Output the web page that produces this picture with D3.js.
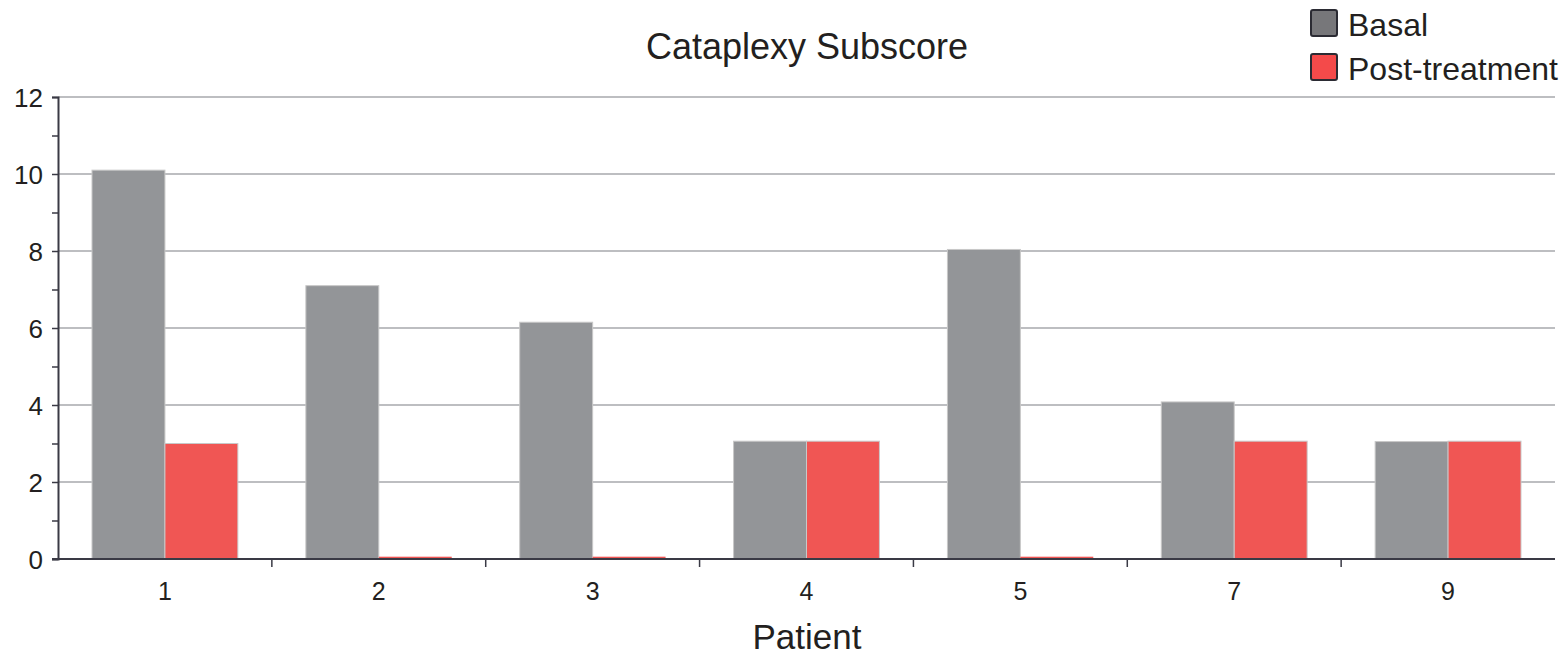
<!DOCTYPE html>
<html><head><meta charset="utf-8">
<script src="https://cdn.jsdelivr.net/npm/d3@7"></script>
<style>body{margin:0;background:#fff}svg{display:block}text{font-family:"Liberation Sans",Arial,sans-serif;fill:#231f20}</style>
</head><body><svg id="c" width="1561" height="655"></svg>
<script>
const patients = ["1","2","3","4","5","7","9"];
const basal = [10.1, 7.1, 6.15, 3.06, 8.04, 4.08, 3.05];
const post = [3.0, 0.06, 0.06, 3.06, 0.06, 3.06, 3.06];
const seriesNames = ["Basal","Post-treatment"];
const yTicks = [0,2,4,6,8,10,12];

const svg = d3.select("#c");
const m = {l:58, r:1555, t:97, b:559};
const x = d3.scaleBand().domain(patients).range([m.l, m.r]).paddingInner(0.318).paddingOuter(0.159);
const x1 = d3.scaleBand().domain(seriesNames).range([0, x.bandwidth()]);
const y = d3.scaleLinear().domain([0,12]).range([m.b, m.t]);
const colors = {"Basal":"#939598","Post-treatment":"#f05654"};

// grid
svg.append("g").selectAll("line").data(yTicks.filter(d=>d>0)).join("line")
  .attr("x1", m.l).attr("x2", m.r).attr("y1", d=>y(d)).attr("y2", d=>y(d))
  .attr("stroke","#a7a9ac").attr("stroke-width",1.3);

// bars
const data = patients.map((p,i)=>({p, vals:[{s:"Basal",v:basal[i]},{s:"Post-treatment",v:post[i]}]}));
const g = svg.append("g").selectAll("g").data(data).join("g").attr("transform", d=>`translate(${x(d.p)},0)`);
g.selectAll("rect").data(d=>d.vals).join("rect")
  .attr("x", d=>x1(d.s)).attr("width", x1.bandwidth())
  .attr("y", d=>y(d.v)).attr("height", d=>y(0)-y(d.v))
  .attr("fill", d=>colors[d.s])
  .attr("stroke", d=> (y(0)-y(d.v))>4 ? "#c8c8c8" : "none").attr("stroke-width",1);

// y axis
const ya = svg.append("g").attr("transform",`translate(${m.l},0)`)
  .call(d3.axisLeft(y).tickValues(d3.range(0,13,1)).tickSize(6).tickFormat(d=> d%2===0 ? d : ""));
ya.select(".domain").attr("stroke","#3a3a45").attr("stroke-width",2);
ya.selectAll(".tick line").attr("stroke","#3a3a45").attr("stroke-width",1.5);
ya.selectAll(".tick text").style("font-size","26px").attr("x",-15).attr("dy","0.36em").style("fill","#231f20").style("font-family","'Liberation Sans', Arial, sans-serif");

// x axis
svg.append("line").attr("x1",m.l-6).attr("x2",m.r).attr("y1",y(0)).attr("y2",y(0)).attr("stroke","#3a3a45").attr("stroke-width",2);
const step = x.step();
svg.append("g").selectAll("line").data(patients.slice(1)).join("line")
  .attr("x1", d=>x(d)-x.paddingInner()*step/2).attr("x2", d=>x(d)-x.paddingInner()*step/2)
  .attr("y1", y(0)).attr("y2", y(0)+8).attr("stroke","#3a3a45").attr("stroke-width",1.5);
svg.append("g").selectAll("text").data(patients).join("text")
  .attr("x", d=>x(d)+x.bandwidth()/2).attr("y", 600).attr("text-anchor","middle")
  .style("font-size","25px").text(d=>d);

// titles
svg.append("text").attr("x",807).attr("y",59).attr("text-anchor","middle").style("font-size","36px").text("Cataplexy Subscore");
svg.append("text").attr("x",807).attr("y",649).attr("text-anchor","middle").style("font-size","35px").text("Patient");

// legend
const legColors = {"Basal":"#77777a","Post-treatment":"#f44a4a"};
const lg = svg.append("g").selectAll("g").data(seriesNames).join("g").attr("transform",(d,i)=>`translate(1311,${10+i*44})`);
lg.append("rect").attr("width",26).attr("height",26).attr("rx",2).attr("fill",d=>legColors[d]).attr("stroke","#2b2b33").attr("stroke-width",2);
lg.append("text").attr("x",37).attr("y",26).style("font-size","32px").text(d=>d);
</script></body></html>
